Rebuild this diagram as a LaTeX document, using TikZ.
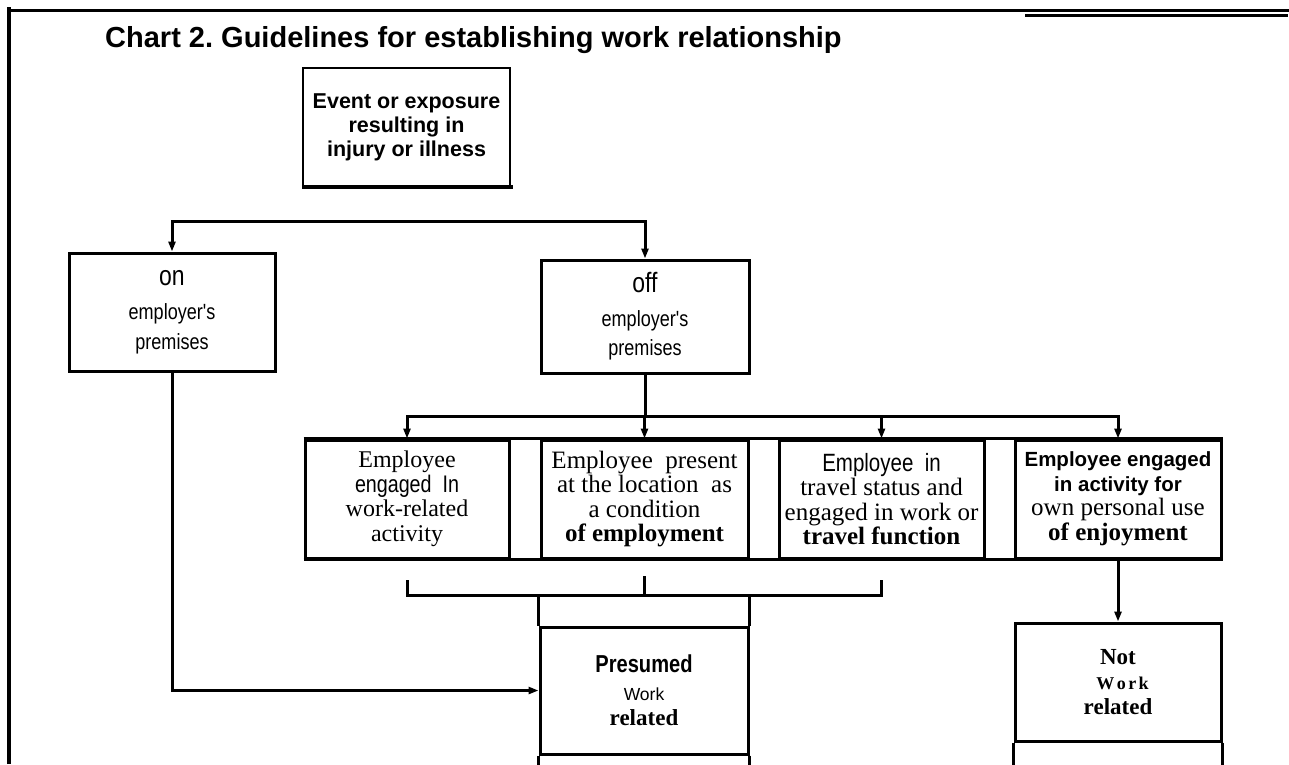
\documentclass[tikz,border=0pt]{standalone}
\usepackage{fontspec}
\setmainfont{Liberation Serif}
\newfontfamily\hv{Liberation Sans}
\newfontfamily\hvn[FakeStretch=0.82]{Liberation Sans}
\usetikzlibrary{arrows.meta}
\frenchspacing
\tikzset{
  box/.style={draw, rectangle, line width=3pt, inner sep=0pt, align=center},
  conn/.style={line width=3pt},
  arr/.style={line width=3pt, -{Triangle[length=10pt,width=7pt]}},
  rowtxt/.style={font=\fontsize{25}{24.5}\selectfont},
}
\begin{document}
\begin{tikzpicture}[x=1pt,y=-1pt]
\useasboundingbox (0,0) rectangle (1289,764);
% frame
\draw[line width=3.5pt] (9,764) -- (9,7);
\draw[line width=3.5pt] (7,10.5) -- (1289,10.5);
\draw[line width=2.5pt] (1025,15.5) -- (1288,15.5);
% title
\node[anchor=base west, inner sep=0pt, font=\hv\bfseries\fontsize{29}{34}\selectfont] (title) at (105,47) {Chart 2. Guidelines for establishing work relationship};
% event box
\node[box, line width=2.5pt, minimum width=207pt, minimum height=118pt, font=\hv\bfseries\fontsize{21.5}{24}\selectfont] (ev) at (406.5,127) {Event or exposure\\resulting in\\injury or illness};
\draw[line width=4pt] (ev.south west) -- ([xshift=2pt]ev.south east);
% on / off
\node[box, minimum width=206pt, minimum height=118pt, font=\hvn\fontsize{22}{30}\selectfont] (on) at (172,312) {{\fontsize{28}{30}\selectfont on}\\[4pt]employer's\\premises};
\node[box, minimum width=208pt, minimum height=113pt, font=\hvn\fontsize{22}{29}\selectfont] (off) at (645,316.5) {{\fontsize{28}{30}\selectfont off}\\[5pt]employer's\\premises};
\draw[conn, line cap=rect] (on.north |- 0,221) -- (off.north |- 0,221);
\draw[arr] (on.north |- 0,221) -- (on.north);
\draw[arr] (off.north |- 0,221) -- (off.north);
% row of four
\node[box, rowtxt, font=\fontsize{24}{24.5}\selectfont, minimum width=204pt, minimum height=118pt] (b1) at (407,499) {Employee\\{\hvn engaged\ \ In}\\work-related\\activity};
\node[box, rowtxt, minimum width=207pt, minimum height=118pt] (b2) at (644.5,499) {Employee\ \ present\\at\ the location\ \ as\\a condition\\\textbf{of\ employment}};
\node[box, rowtxt, minimum width=205pt, minimum height=118pt] (b3) at (881.5,499) {{\hvn Employee\ \ in}\\travel status and\\engaged in work or\\\textbf{travel function}};
\node[box, rowtxt, minimum width=206pt, minimum height=118pt] (b4) at (1118,499) {{\hv\bfseries\fontsize{20.5}{24}\selectfont Employee engaged}\\{\hv\bfseries\fontsize{20.5}{24}\selectfont in activity for}\\own personal use\\\textbf{of enjoyment}};
\draw[conn] (b1.north west) -- (b4.north east);
\draw[conn] (b1.south west) -- (b4.south east);
\draw[conn] (off.south) -- (off.south |- 0,416);
\draw[conn, line cap=rect] (b1.north |- 0,416) -- (b4.north |- 0,416);
\foreach \b in {b1,b2,b3,b4} \draw[arr] (\b.north |- 0,416) -- (\b.north);
% bracket
\draw[conn] (b1.south |- 0,580) -- (b1.south |- 0,595) -- (b3.south |- 0,595) -- (b3.south |- 0,580);
\draw[conn] (b2.south |- 0,576) -- (b2.south |- 0,595);
% result boxes
\node[box, minimum width=208pt, minimum height=127pt, font=\bfseries\fontsize{23}{25}\selectfont] (P) at (644,690.5) {{\hvn\bfseries\fontsize{24.5}{25}\selectfont Presumed}\\[3pt]{\hv\mdseries\fontsize{17.5}{20}\selectfont Work}\\related};
\node[box, minimum width=206pt, minimum height=118pt, font=\bfseries\fontsize{23}{25}\selectfont] (N) at (1118,682) {Not\\{\fontsize{18}{20}\selectfont\ \ W\kern2.5pt o\kern2.5pt r\kern2.5pt k}\\related};
\draw[conn] (P.north west |- 0,595) -- (P.north west);
\draw[conn] (P.north east |- 0,595) -- (P.north east);
\draw[conn] (P.south west) -- (P.south west |- 0,766);
\draw[conn] (P.south east) -- (P.south east |- 0,766);
\draw[conn] (N.south west) -- (N.south west |- 0,766);
\draw[conn] (N.south east) -- (N.south east |- 0,766);
% connectors
\draw[arr] (on.south) |- (P.west);
\draw[arr] (b4.south) -- (N.north);
\end{tikzpicture}
\end{document}
